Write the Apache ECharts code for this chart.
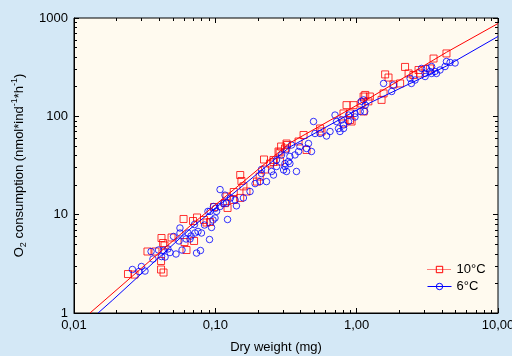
<!DOCTYPE html>
<html><head><meta charset="utf-8">
<script src="https://cdn.jsdelivr.net/npm/echarts@6/dist/echarts.min.js"></script>
<style>html,body{margin:0;padding:0;background:#d4e8f6}#c{width:512px;height:356px}</style>
</head><body><div id="c"></div><script>
// ---- data (dry weight in mg, O2 consumption in nmol*ind^-1*h^-1) ----
const red10x = [0.0241,0.0268,0.0413,0.0430,0.0331,0.0377,0.0416,0.0427,0.0490,0.0625,0.0596,0.0742,0.0695,0.0707,0.0605,0.0413,0.0437,0.0832,0.0917,0.098,0.0866,0.117,0.120,0.135,0.150,0.153,0.158,0.135,0.122,0.166,0.221,0.225,0.244,0.258,0.285,0.321,0.292,0.197,0.150,0.206,0.258,0.287,0.311,0.319,0.388,0.421,0.442,0.551,0.564,0.807,0.920,0.897,0.848,0.950,1.08,1.15,1.24,1.12,1.21,1.12,1.55,1.50,1.59,1.68,1.82,2.03,2.20,2.33,2.52,2.81,3.30,3.50,4.32,2.74,0.897,0.807,0.280];
const red10y = [2.49,2.46,2.77,2.58,4.22,4.22,5.79,5.15,5.86,4.37,9.04,9.36,8.62,5.40,5.27,3.38,4.86,8.83,8.42,11.97,8.32,13.1,15.3,17.0,25.3,22.0,19.4,14.1,11.7,17.2,36.4,28.8,33.1,34.3,42.9,51.1,49.3,21.7,14.8,24.4,36.0,34.7,47.1,52.9,55.5,64.6,45.5,75.2,70.1,84.6,88.6,107,130,130,135,165,159,159,142,112,171,147,267,248,211,216,318,273,263,273,307,387,436,296,91.8,107,43.9];
const blue6x = [0.0259,0.0288,0.0318,0.0300,0.0351,0.0362,0.0396,0.0430,0.0441,0.0416,0.0462,0.0478,0.0527,0.0506,0.0562,0.0562,0.0553,0.0581,0.0621,0.0641,0.0662,0.0673,0.0718,0.0712,0.0754,0.0798,0.0736,0.0785,0.091,0.0838,0.0963,0.0887,0.100,0.094,0.0995,0.108,0.122,0.120,0.128,0.138,0.108,0.0917,0.097,0.102,0.117,0.114,0.141,0.158,0.176,0.191,0.207,0.212,0.212,0.230,0.250,0.271,0.271,0.294,0.311,0.319,0.319,0.311,0.337,0.375,0.304,0.258,0.329,0.337,0.366,0.346,0.388,0.397,0.442,0.479,0.456,0.495,0.507,0.551,0.612,0.648,0.703,0.720,0.744,0.762,0.807,0.876,0.973,1.06,1.14,1.15,1.08,1.12,0.973,0.876,0.781,0.807,1.55,1.77,1.82,2.39,2.44,2.59,2.88,3.05,3.05,3.12,3.30,3.39,3.58,3.67,3.89,4.22,4.32,4.58,4.97,3.39];
const blue6y = [2.77,2.64,2.67,2.97,4.22,3.54,4.37,4.32,3.71,3.75,4.48,4.12,3.98,6.0,6.51,7.32,5.40,4.37,5.66,6.51,5.66,6.07,6.51,7.94,6.75,6.51,4.07,4.32,5.59,7.85,8.83,10.8,11.6,7.41,9.25,18.0,8.93,13.1,14.8,14.1,12.1,10.8,12.1,10.8,15.8,13.0,12.3,14.8,17.2,20.7,21.7,26.2,28.8,21.7,27.5,30.9,36.0,40.5,30.9,27.5,45.5,33.1,33.1,27.5,28.5,25.3,34.7,39.1,40.5,51.1,43.9,49.3,47.1,43.9,52.9,88.6,66.9,66.9,63.1,70.1,103,88.6,75.2,70.1,75.2,88.6,107,112,112,130,142,147,98.5,103,91.8,81.7,216,179,208,243,216,234,307,273,254,307,286,273,286,273,296,321,361,353,349,321];
// fitted curves at a few nodes
const fit10x = [0.01297,0.01656,0.0662,0.337,1.24,4.32,10];
const fit10y = [1,1.356,7.67,53.6,154,448,879];
const fit6x = [0.0148,0.0188,0.0662,0.337,1.24,4.32,10];
const fit6y = [1,1.356,7.15,48.8,137,325,649];
// axes
const xMinor = [0.02,0.03,0.04,0.05,0.06,0.07,0.08,0.09,0.2,0.3,0.4,0.5,0.6,0.7,0.8,0.9,2,3,4,5,6,7,8,9];
const yMinor = [2,3,4,5,6,7,8,9,20,30,40,50,60,70,80,90,200,300,400,500,600,700,800,900];
const seriesNames = ['10°C','6°C'];
const xTitle = 'Dry weight (mg)';

const FONT = '"Liberation Sans", Arial, sans-serif';
const zip = (a,b) => a.map((v,i)=>[v,b[i]]);
const RED = '#ff0000', BLUE = '#0000ff';

function xAx(pos, minor, extra) {
  return Object.assign({
    type:'log', logBase:10, min:0.01, max:10, position:pos,
    axisLine:{show:false}, splitLine:{show:false}, minorTick:{show:false},
    axisLabel:{show:false},
    axisTick: minor ? {show:true, inside:true, length:3, customValues:xMinor, lineStyle:{color:'#000',width:1}}
                    : {show:true, inside:true, length:5, lineStyle:{color:'#000',width:1}}
  }, extra||{});
}
function yAx(pos, minor, extra) {
  return Object.assign({
    type:'log', logBase:10, min:1, max:1000, position:pos,
    axisLine:{show:false}, splitLine:{show:false}, minorTick:{show:false},
    axisLabel:{show:false},
    axisTick: minor ? {show:true, inside:true, length:3, customValues:yMinor, lineStyle:{color:'#000',width:1}}
                    : {show:true, inside:true, length:5, lineStyle:{color:'#000',width:1}}
  }, extra||{});
}

const chart = echarts.init(document.getElementById('c'), null, {renderer:'canvas'});
chart.setOption({
  animation:false,
  backgroundColor:'#d4e8f6',
  grid:{left:74, right:14, top:18, bottom:43, show:true, backgroundColor:'#fffaef', borderColor:'#000', borderWidth:1, containLabel:false, outerBoundsMode:'none'},
  legend:{
    orient:'vertical', left:422, top:258, itemWidth:24, itemHeight:8, itemGap:4,
    textStyle:{color:'#000', fontSize:13, fontFamily:FONT, padding:[0,0,0,0]},
    data:[
      {name:seriesNames[0], itemStyle:{color:'transparent', borderColor:RED, borderWidth:1}, lineStyle:{color:RED, type:'dotted', width:1}},
      {name:seriesNames[1], itemStyle:{color:'transparent', borderColor:BLUE, borderWidth:1}, lineStyle:{color:BLUE, type:'solid', width:1}}
    ]
  },
  xAxis:[
    xAx('bottom', false, {
      axisLine:{show:true, lineStyle:{color:'#000', width:1}},
      axisLabel:{show:true, color:'#000', fontSize:13, fontFamily:FONT, margin:6,
        formatter:v => Number(v).toFixed(2).replace('.', ',')},
      name:xTitle, nameLocation:'middle', nameGap:28,
      nameTextStyle:{color:'#000', fontSize:13, fontFamily:FONT, padding:[0,20,0,0]}
    }),
    xAx('bottom', true),
    xAx('top', false),
    xAx('top', true)
  ],
  yAxis:[
    yAx('left', false, {
      axisLine:{show:true, lineStyle:{color:'#000', width:1}},
      axisLabel:{show:true, color:'#000', fontSize:13, fontFamily:FONT, margin:6,
        formatter:v => String(Math.round(v))},
      name:'O{sub|2} consumption (nmol*ind{sup|-1}*h{sup|-1})',
      nameLocation:'middle', nameRotate:90, nameGap:44,
      nameTextStyle:{color:'#000', fontSize:13, fontFamily:FONT, lineHeight:18,
        rich:{
          sub:{fontSize:9, fontFamily:FONT, color:'#000', verticalAlign:'bottom', lineHeight:18},
          sup:{fontSize:9, fontFamily:FONT, color:'#000', verticalAlign:'top', lineHeight:18}
        }}
    }),
    yAx('left', true),
    yAx('right', false),
    yAx('right', true)
  ],
  series:[
    {name:seriesNames[0], type:'line', xAxisIndex:0, yAxisIndex:0, data:zip(fit10x, fit10y),
     symbol:'rect', symbolSize:7, showSymbol:false, silent:true, z:4,
     lineStyle:{color:RED, width:1}, itemStyle:{color:RED}},
    {name:seriesNames[1], type:'line', xAxisIndex:0, yAxisIndex:0, data:zip(fit6x, fit6y),
     symbol:'circle', symbolSize:7, showSymbol:false, silent:true, z:4,
     lineStyle:{color:BLUE, width:1}, itemStyle:{color:BLUE}},
    {name:seriesNames[0], type:'scatter', xAxisIndex:0, yAxisIndex:0, data:zip(red10x, red10y),
     symbol:'rect', symbolSize:7, z:2,
     itemStyle:{color:'transparent', borderColor:RED, borderWidth:1}},
    {name:seriesNames[1], type:'scatter', xAxisIndex:0, yAxisIndex:0, data:zip(blue6x, blue6y),
     symbol:'circle', symbolSize:6.5, z:3,
     itemStyle:{color:'transparent', borderColor:BLUE, borderWidth:1}}
  ]
});
</script></body></html>
